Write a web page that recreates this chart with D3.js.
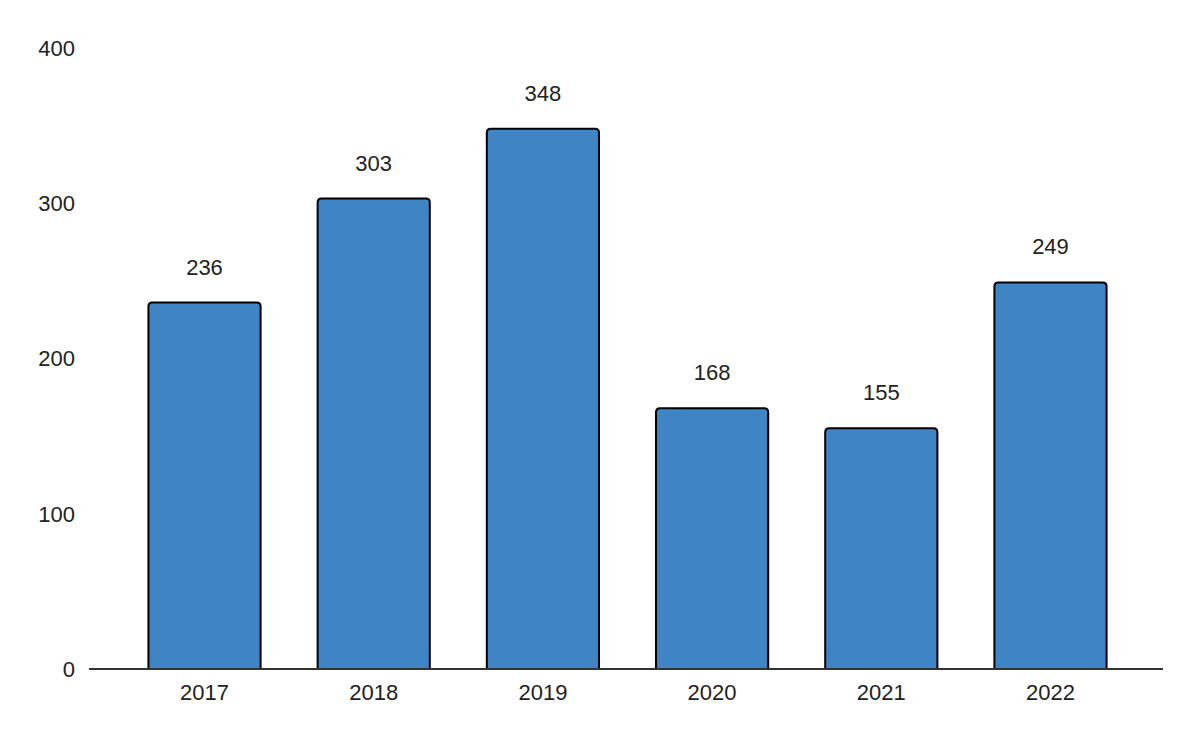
<!DOCTYPE html>
<html>
<head>
<meta charset="utf-8">
<script src="https://cdn.jsdelivr.net/npm/d3@7"></script>
<style>
  body { margin: 0; background: #fff; }
  text { font-family: "Liberation Sans", Arial, sans-serif; fill: #222; }
</style>
</head>
<body>
<div id="chart"></div>
<script>
const years = ["2017", "2018", "2019", "2020", "2021", "2022"];
const counts = [236, 303, 348, 168, 155, 249];
const yTicks = [0, 100, 200, 300, 400];

const width = 1200;
const height = 742;
const baseY = 669;
const topY = 48;

const svg = d3
  .select("#chart")
  .append("svg")
  .attr("width", width)
  .attr("height", height);

const x = d3.scaleBand().domain(years).range([120, 1135]).paddingInner(0.337).paddingOuter(0.168);
const y = d3.scaleLinear().domain([0, 400]).range([baseY, topY]);

// y tick labels (no axis line)
svg
  .selectAll(".ylab")
  .data(yTicks)
  .join("text")
  .attr("class", "ylab")
  .attr("x", 75)
  .attr("y", (d) => y(d))
  .attr("dy", "0.36em")
  .attr("text-anchor", "end")
  .style("font-size", "22px")
  .text((d) => d);

// bars with rounded top corners
const r = 4;
function barPath(d, i) {
  const x0 = x(years[i]);
  const x1 = x0 + x.bandwidth();
  const yt = y(d);
  return `M${x0},${baseY} L${x0},${yt + r} Q${x0},${yt} ${x0 + r},${yt} L${x1 - r},${yt} Q${x1},${yt} ${x1},${yt + r} L${x1},${baseY}`;
}

svg
  .selectAll(".bar")
  .data(counts)
  .join("path")
  .attr("class", "bar")
  .attr("d", barPath)
  .attr("fill", "#3f85c6")
  .attr("stroke", "#000")
  .attr("stroke-width", 2);

// value labels
svg
  .selectAll(".val")
  .data(counts)
  .join("text")
  .attr("class", "val")
  .attr("x", (d, i) => x(years[i]) + x.bandwidth() / 2)
  .attr("y", (d) => y(d) - 28)
  .attr("text-anchor", "middle")
  .style("font-size", "22px")
  .text((d) => d);

// x axis
const xAxis = svg.append("g").attr("transform", `translate(0,${baseY})`);
xAxis
  .append("line")
  .attr("x1", 89)
  .attr("x2", 1163)
  .attr("stroke", "#333")
  .attr("stroke-width", 2);

xAxis
  .selectAll(".xlab")
  .data(years)
  .join("text")
  .attr("class", "xlab")
  .attr("x", (d) => x(d) + x.bandwidth() / 2)
  .attr("y", 31)
  .attr("text-anchor", "middle")
  .style("font-size", "22px")
  .text((d) => d);
</script>
</body>
</html>
